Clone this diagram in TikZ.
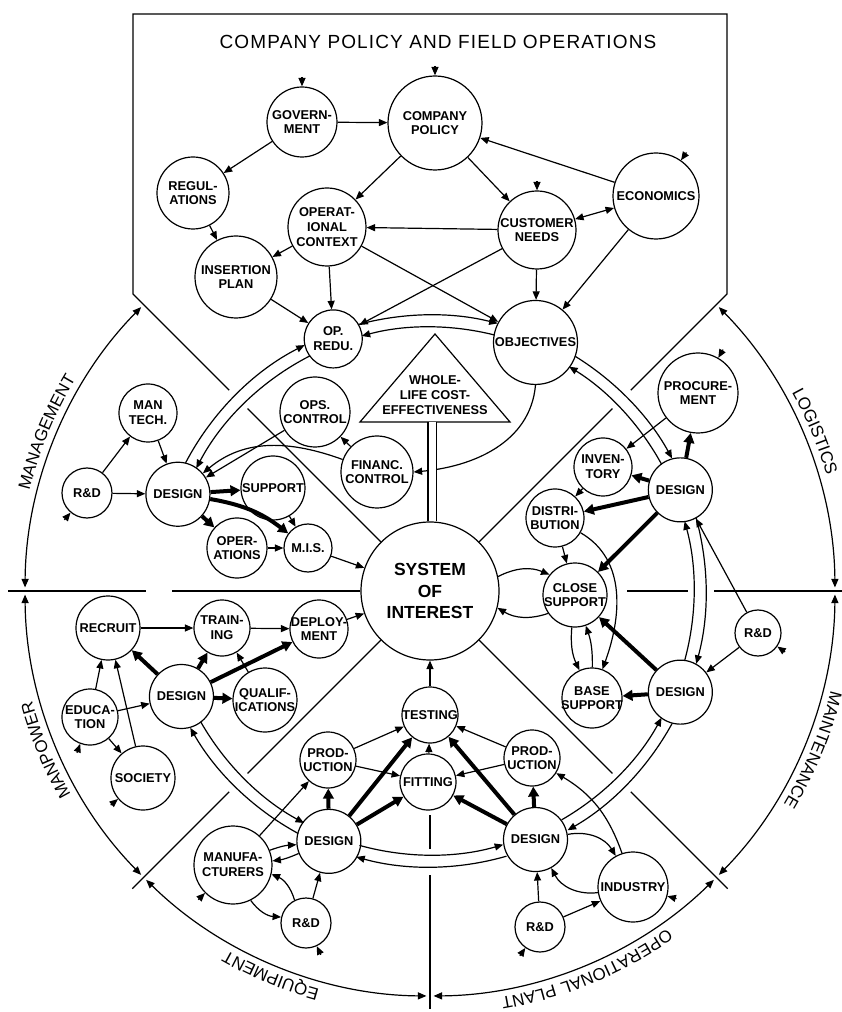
\documentclass[tikz,border=0pt]{standalone}
\usepackage{fontspec}
\setmainfont{Liberation Sans}
\newfontfamily\spacedfont{Liberation Sans}[LetterSpace=6]
\usetikzlibrary{arrows.meta}
\usetikzlibrary{decorations.text}
\newcommand{\nodefont}{\bfseries\fontsize{12.8}{14.8}\selectfont}
\newcommand{\sysfont}{\bfseries\fontsize{17.5}{21.5}\selectfont}
\newcommand{\arcfont}{\spacedfont\fontsize{17}{20}\selectfont}
\newcommand{\bannerfont}{\spacedfont\fontsize{19}{22}\selectfont}
\tikzset{>={Triangle[length=8.5pt,width=7pt]},
  unit/.style={circle, draw, line width=1.2pt, inner sep=-3pt, align=center, font=\nodefont},
  link/.style={->, line width=1.2pt},
  heavy/.style={-{Triangle[length=10pt,width=10.5pt]}, line width=4pt}}
\newcommand{\inputstub}[2]{\draw[link] ([shift={(#2:9.5)}]#1.#2) -- (#1.#2);}

\begin{document}
\begin{tikzpicture}[x=1pt, y=1pt, line width=1.2pt]
      \useasboundingbox (-430,-421) rectangle (412,591);

      % company policy and field operations
      \node [font=\bannerfont] (title) at (8,549) {COMPANY POLICY AND FIELD OPERATIONS};
      \node [unit, minimum size=70pt] (gov) at (-128,469) {GOVERN-\\MENT};
      \node [unit, minimum size=94pt] (compol) at (5,468) {COMPANY\\POLICY};
      \node [unit, minimum size=72pt] (regul) at (-237,398) {REGUL-\\ATIONS};
      \node [unit, minimum size=78pt] (opctx) at (-103,364) {OPERAT-\\IONAL\\CONTEXT};
      \node [unit, minimum size=78pt] (custneeds) at (107,361) {CUSTOMER\\NEEDS};
      \node [unit, minimum size=86pt] (econ) at (226,395) {ECONOMICS};
      \node [unit, minimum size=82pt] (insert) at (-194,314) {INSERTION\\PLAN};
      \node [unit, minimum size=58pt] (opredu) at (111:270) {OP.\\REDU.};
      \node [unit, minimum size=84pt] (obj) at (67:270) {OBJECTIVES};

      % centre
      \node [unit, minimum size=138pt, font=\sysfont] (sys) at (0,0) {SYSTEM\\OF\\INTEREST};
      \node [unit, minimum size=72pt] (finctl) at (-53,119) {FINANC.\\CONTROL};
      \node [unit, minimum size=70pt] (opsctl) at (-115,179) {OPS.\\CONTROL};
      \coordinate (apex) at (5,257);
      \coordinate (tribase) at (2,169);
      \draw (apex) -- (80,169) -- (-70,169) -- cycle;
      \node [font=\nodefont, align=center] (wlce) at (5,196) {WHOLE-\\LIFE COST-\\EFFECTIVENESS};

      % management
      \node [unit, minimum size=64pt] (mgd) at (159:270) {DESIGN};
      \node [unit, minimum size=58pt] (mantech) at (-282,178) {MAN\\TECH.};
      \node [unit, minimum size=50pt] (rdmg) at (-343,98) {R\&D};
      \node [unit, minimum size=64pt] (support) at (-157,103) {SUPPORT};
      \node [unit, minimum size=60pt] (operations) at (-193,43) {OPER-\\ATIONS};
      \node [unit, minimum size=48pt] (mis) at (-122,43) {M.I.S.};

      % manpower
      \node [unit, minimum size=64pt] (mpd) at (203:270) {DESIGN};
      \node [unit, minimum size=64pt] (recruit) at (-322,-37) {RECRUIT};
      \node [unit, minimum size=56pt] (training) at (-208,-37) {TRAIN-\\ING};
      \node [unit, minimum size=58pt] (deploy) at (-111,-38) {DEPLOY-\\MENT};
      \node [unit, minimum size=64pt] (qualif) at (-165,-109) {QUALIF-\\ICATIONS};
      \node [unit, minimum size=56pt] (educ) at (-340,-126) {EDUCA-\\TION};
      \node [unit, minimum size=64pt] (society) at (-287,-187) {SOCIETY};

      % equipment
      \node [unit, minimum size=64pt] (eqd) at (-112:270) {DESIGN};
      \node [unit, minimum size=56pt] (prodl) at (-102,-169) {PROD-\\UCTION};
      \node [unit, minimum size=78pt] (manuf) at (-197,-274) {MANUFA-\\CTURERS};
      \node [unit, minimum size=50pt] (rdeq) at (-124,-332) {R\&D};
      \node [unit, minimum size=56pt] (testing) at (0,-124) {TESTING};
      \node [unit, minimum size=56pt] (fitting) at (-2,-191) {FITTING};

      % operational plant
      \node [unit, minimum size=64pt] (opd) at (-67:270) {DESIGN};
      \node [unit, minimum size=56pt] (prodr) at (102,-167) {PROD-\\UCTION};
      \node [unit, minimum size=70pt] (industry) at (203,-296) {INDUSTRY};
      \node [unit, minimum size=50pt] (rdop) at (110,-336) {R\&D};

      % maintenance
      \node [unit, minimum size=64pt] (maintd) at (-22:270) {DESIGN};
      \node [unit, minimum size=60pt] (basesup) at (162,-107) {BASE\\SUPPORT};
      \node [unit, minimum size=64pt] (closesup) at (145,-4) {CLOSE\\SUPPORT};
      \node [unit, minimum size=46pt] (rdmt) at (328,-42) {R\&D};

      % logistics
      \node [unit, minimum size=64pt] (logd) at (22:270) {DESIGN};
      \node [unit, minimum size=80pt] (procure) at (268,198) {PROCURE-\\MENT};
      \node [unit, minimum size=58pt] (inventory) at (173,124) {INVEN-\\TORY};
      \node [unit, minimum size=58pt] (distrib) at (125,73) {DISTRI-\\BUTION};

      % frame and dividers
      \draw (sys.135) -- (135:258);
      \draw (135:284) -- (135:420) -- (-297,577) -- (297,577) -- (45:420) -- (45:284);
      \draw (45:258) -- (sys.45);
      \draw (0:197) -- (0:258) (0:284) -- (0:412);
      \draw (sys.180) -- (180:258) (180:284) -- (180:422);
      \draw (270:224) -- (270:258) (270:284) -- (270:418);
      \draw (sys.225) -- (225:258) (225:284) -- (225:421);
      \draw (sys.315) -- (315:258) (315:284) -- (315:421);

      % outer arcs and their labels
      \foreach \a in {45,0,-45,-90,-135,180}
        \draw [<->] (\a-0.5:405) arc [start angle=\a-0.5, end angle=\a-44.5, radius=405pt];
      \path [decorate, decoration={text along path, text={|\arcfont|LOGISTICS}, text align=center}] (52.5:413) arc [start angle=52.5, end angle=-7.5, radius=413pt];
      \path [decorate, decoration={text along path, text={|\arcfont|MAINTENANCE}, text align=center}] (7.5:413) arc [start angle=7.5, end angle=-52.5, radius=413pt];
      \path [decorate, decoration={text along path, text={|\arcfont|OPERATIONAL PLANT}, text align=center}] (-37.5:413) arc [start angle=-37.5, end angle=-97.5, radius=413pt];
      \path [decorate, decoration={text along path, text={|\arcfont|EQUIPMENT}, text align=center}] (-82.5:413) arc [start angle=-82.5, end angle=-142.5, radius=413pt];
      \path [decorate, decoration={text along path, text={|\arcfont|MANPOWER}, text align=center}] (-127.5:413) arc [start angle=-127.5, end angle=-187.5, radius=413pt];
      \path [decorate, decoration={text along path, text={|\arcfont|MANAGEMENT}, text align=center}] (187.5:413) arc [start angle=187.5, end angle=127.5, radius=413pt];

      % inner ring of paired arcs
      \foreach \a/\da/\b/\db in {111/6/67/8.8, 67/8.8/22/6.7, 22/6.7/-22/6.7, -22/6.7/-67/6.9,
          -67/6.9/-112/6.5, -112/6.5/-157/6.7, 159/6.7/111/6} {
        \draw [link] (\a-\da:276) arc [start angle=\a-\da, end angle=\b+\db, radius=276pt];
        \draw [link] (\b+\db:264) arc [start angle=\b+\db, end angle=\a-\da, radius=264pt];
      }

      % top
      \draw [link] (gov) -- (compol);
      \draw [link] (gov) -- (regul);
      \draw [link] (compol) -- (opctx);
      \draw [link] (compol) -- (custneeds);
      \draw [link] (econ) -- (compol);
      \draw [link, <->] (econ) -- (custneeds);
      \draw [link] (custneeds) -- (opctx);
      \draw [link] (regul) -- (insert);
      \draw [link] (opctx) -- (insert);
      \draw [link] (opctx) -- (opredu);
      \draw [link] (opctx) -- (obj);
      \draw [link] (custneeds) -- (opredu);
      \draw [link] (custneeds) -- (obj);
      \draw [link] (econ) -- (obj);
      \draw [link] (insert) -- (opredu);

      % centre
      \draw [link] (obj.south) to [out=-95, in=5] (finctl.east);
      \draw [link] (finctl) -- (opsctl);
      \draw [link] (finctl) to [out=160, in=40] (mgd);
      \draw [link] (opsctl) -- (mgd);
      \draw [double, double distance=7pt] (tribase) -- (tribase |- sys.north);
      \draw [link] (testing) -- (sys);
      \draw [link] (fitting) -- (testing);

      % management
      \draw [link] (rdmg) -- (mantech);
      \draw [link] (rdmg) -- (mgd);
      \draw [link] (mantech) -- (mgd);
      \draw [heavy] (mgd) -- (support);
      \draw [heavy] (mgd) to [bend left=14] (mis);
      \draw [heavy] (mgd) -- (operations);
      \draw [link] (operations) -- (mis);
      \draw [link] (support) -- (mis);
      \draw [link] (mis) -- (sys);

      % manpower
      \draw [link] (recruit) -- (training);
      \draw [link] (training) -- (deploy);
      \draw [link] (deploy) -- (sys);
      \draw [heavy] (mpd) -- (recruit);
      \draw [heavy] (mpd) -- (training);
      \draw [heavy] (mpd) -- (deploy);
      \draw [heavy] (mpd) -- (qualif);
      \draw [link] (qualif) -- (training);
      \draw [link] (educ) -- (recruit);
      \draw [link] (educ) -- (mpd);
      \draw [link] (educ) -- (society);
      \draw [link] (society) -- (recruit);

      % equipment
      \draw [link] (manuf) -- (prodl);
      \draw [link] (manuf) to [bend left=8] (eqd);
      \draw [link] (eqd) to [bend left=8] (manuf);
      \draw [link] (manuf) to [bend right=25] (rdeq);
      \draw [link] (rdeq) to [bend right=25] (manuf);
      \draw [link] (rdeq) -- (eqd);
      \draw [heavy] (eqd) -- (prodl);
      \draw [heavy] (eqd) -- (testing);
      \draw [heavy] (eqd) -- (fitting);
      \draw [link] (prodl) -- (testing);
      \draw [link] (prodl) -- (fitting);

      % operational plant
      \draw [link] (prodr) -- (testing);
      \draw [link] (prodr) -- (fitting);
      \draw [heavy] (opd) -- (prodr);
      \draw [heavy] (opd) -- (testing);
      \draw [heavy] (opd) -- (fitting);
      \draw [link] (opd) to [bend left=35] (industry);
      \draw [link] (industry) to [bend left=35] (opd);
      \draw [link] (industry) to [bend right=20] (prodr);
      \draw [link] (rdop) -- (opd);
      \draw [link] (rdop) -- (industry);

      % maintenance
      \draw [link] (rdmt) -- (maintd);
      \draw [link] (rdmt) -- (logd);
      \draw [heavy] (maintd) -- (basesup);
      \draw [heavy] (maintd) -- (closesup);
      \draw [link] (closesup) to [bend right=15] (basesup);
      \draw [link] (basesup) to [bend right=10] (closesup);
      \draw [link] (distrib) to [out=-30, in=70] (basesup);
      \draw [link] (sys.12) to [bend left=25] (closesup);
      \draw [link] (closesup) to [bend left=25] (sys.-14);

      % logistics
      \draw [heavy] (logd) -- (procure);
      \draw [link] (procure) -- (inventory);
      \draw [heavy] (logd) -- (inventory);
      \draw [heavy] (logd) -- (distrib);
      \draw [heavy] (logd) -- (closesup);
      \draw [link] (inventory) -- (distrib);
      \draw [link] (distrib) -- (closesup);

      % outside inputs
      \inputstub{gov}{90}
      \inputstub{compol}{90}
      \inputstub{custneeds}{90}
      \inputstub{econ}{55}
      \inputstub{procure}{60}
      \inputstub{rdmg}{230}
      \inputstub{educ}{250}
      \inputstub{society}{220}
      \inputstub{manuf}{225}
      \inputstub{rdeq}{295}
      \inputstub{rdop}{235}
      \inputstub{industry}{345}
      \inputstub{rdmt}{325}
    \end{tikzpicture}
\end{document}
